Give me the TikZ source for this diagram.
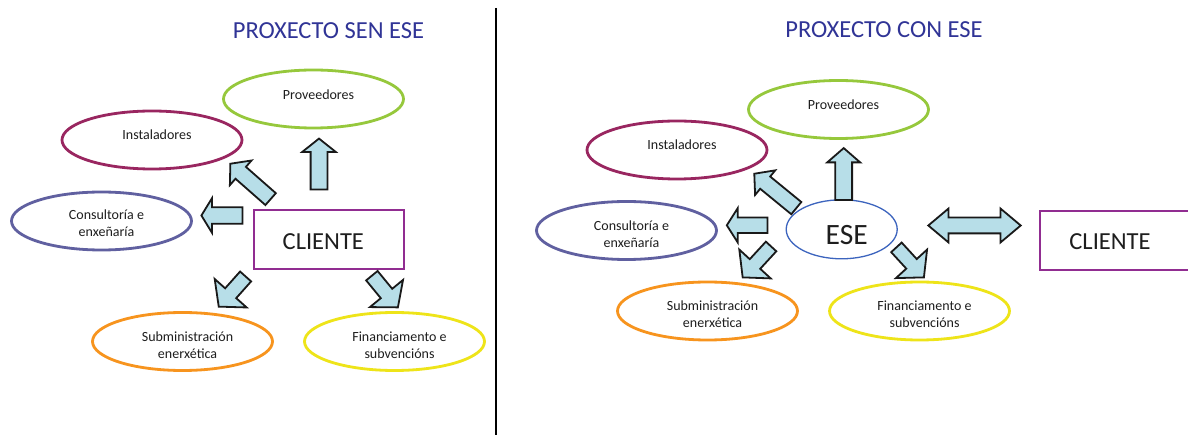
\documentclass[tikz,border=0pt]{standalone}
\usepackage{fontspec}
\setmainfont{Carlito}
\usetikzlibrary{shapes.geometric,shapes.arrows,calc}
\definecolor{titleblue}{RGB}{48,52,150}
\definecolor{cgreen}{RGB}{150,200,60}
\definecolor{cmaroon}{RGB}{153,38,96}
\definecolor{cslate}{RGB}{96,96,160}
\definecolor{corange}{RGB}{247,148,30}
\definecolor{cyellow}{RGB}{238,228,25}
\definecolor{cpurple}{RGB}{145,45,145}
\definecolor{eseblue}{RGB}{60,100,190}
\definecolor{arrowfill}{RGB}{183,222,232}
\definecolor{txt}{RGB}{30,30,30}
\tikzset{
  oval/.style={ellipse, draw=#1, line width=2.8pt, minimum width=180pt, minimum height=58pt, inner sep=0pt},
  clibox/.style={rectangle, draw=cpurple, line width=2pt, minimum width=150pt, minimum height=59pt, inner sep=0pt},
  small/.style={anchor=base, inner sep=0pt, text=txt, font=\fontsize{14}{16.7}\selectfont},
  big/.style={anchor=base, inner sep=0pt, text=txt, font=\fontsize{24.5}{29}\selectfont},
  huge/.style={anchor=base, inner sep=0pt, text=txt, font=\fontsize{29.5}{34}\selectfont},
  ttl/.style={anchor=base, inner sep=0pt, text=titleblue, font=\fontsize{24.5}{29}\selectfont},
  % args: total length, half shaft width, head extend, tip angle
  barrow/.style n args={4}{single arrow, draw=black!90, fill=arrowfill, line width=1.8pt,
    inner xsep=0pt, inner ysep=#2, anchor=tail, minimum height=#1,
    single arrow head extend=#3, single arrow tip angle=#4},
  dbarrow/.style n args={4}{double arrow, draw=black!90, fill=arrowfill, line width=1.8pt,
    inner xsep=0pt, inner ysep=#2, minimum height=#1,
    double arrow head extend=#3, double arrow tip angle=#4},
}
\begin{document}
\begin{tikzpicture}[x=1pt,y=-1pt]
\useasboundingbox (0,0) rectangle (1188,435);
\clip (0,0) rectangle (1188,435);
\fill[white] (0,0) rectangle (1188,435);

% divider
\draw[line width=2pt, black] (496,8) -- (496,435);

% ---------- left panel ----------
\node[ttl] (ltitle) at (328.5,38.3) {PROXECTO SEN ESE};

\node[oval=cgreen]  (lprov) at (313.5,99) {};
\node[oval=cmaroon] (linst) at (152,140) {};
\node[oval=cslate]  (lcons) at (101.5,221) {};
\node[oval=corange] (lsub)  at (182.5,341.5) {};
\node[oval=cyellow] (lfin)  at (394.5,341.5) {};
\node[clibox] (lcli) at (329.2,240) {};

\node[small] (lprovT) at ($(lprov)+(5,1)$) {Proveedores};
\node[small] (linstT) at ($(linst)+(5,-0.5)$) {Instaladores};
\node[small] (lconsT) at ($(lcons)+(5,-1)$) {\begin{tabular}[t]{@{}c@{}}Consultoría e\\enxeñaría\end{tabular}};
\node[small] (lsubT) at ($(lsub)+(5,0)$) {\begin{tabular}[t]{@{}c@{}}Subministración\\enerxética\end{tabular}};
\node[small] (lfinT) at ($(lfin)+(5,0)$) {\begin{tabular}[t]{@{}c@{}}Financiamento e\\subvencións\end{tabular}};
\node[big] (lcliT) at ($(lcli)+(-5.9,10)$) {CLIENTE};

\node[barrow={51pt}{7.5pt}{8.5pt}{103}, rotate=90] (la1) at (319,190.5) {};
\node[barrow={53.6pt}{7pt}{8.5pt}{100}, rotate=138.7] (la2) at (271.3,199.7) {};
\node[barrow={41pt}{7.3pt}{9.2pt}{117}, rotate=180] (la3) at (243.3,215.5) {};
\node[barrow={40.4pt}{6.5pt}{14pt}{100}, rotate=228.3] (la4) at (246.2,275.8) {};
\node[barrow={41pt}{6.5pt}{14pt}{100}, rotate=309.4] (la5) at (371.3,275) {};

% ---------- right panel ----------
\node[ttl] (rtitle) at (884,38) {PROXECTO CON ESE};

\node[oval=cgreen]  (rprov) at (838.5,109.5) {};
\node[oval=cmaroon] (rinst) at (677,150) {};
\node[oval=cslate]  (rcons) at (626.5,230.5) {};
\node[oval=corange] (rsub)  at (707.5,311) {};
\node[oval=cyellow] (rfin)  at (919.5,311) {};
\node[ellipse, draw=eseblue, line width=1.3pt, minimum width=111pt, minimum height=59pt, inner sep=0pt] (rese) at (841.7,229.3) {};
\node[clibox] (rcli) at (1115,240.5) {};

\node[small] (rprovT) at ($(rprov)+(5,0.5)$) {Proveedores};
\node[small] (rinstT) at ($(rinst)+(5,-0.5)$) {Instaladores};
\node[small] (rconsT) at ($(rcons)+(5,0.2)$) {\begin{tabular}[t]{@{}c@{}}Consultoría e\\enxeñaría\end{tabular}};
\node[small] (rsubT) at ($(rsub)+(5,0)$) {\begin{tabular}[t]{@{}c@{}}Subministración\\enerxética\end{tabular}};
\node[small] (rfinT) at ($(rfin)+(5,0)$) {\begin{tabular}[t]{@{}c@{}}Financiamento e\\subvencións\end{tabular}};
\node[huge] (reseT) at (846.7,245) {ESE};
\node[big] (rcliT) at ($(rcli)+(-5,9.5)$) {CLIENTE};

\node[barrow={52pt}{7.5pt}{8pt}{98}, rotate=90] (ra1) at (843.7,201) {};
\node[barrow={54.3pt}{7pt}{8pt}{97}, rotate=140.7] (ra2) at (797,208.7) {};
\node[barrow={40.6pt}{6.8pt}{9.5pt}{115}, rotate=180] (ra3) at (768.3,225.3) {};
\node[barrow={42pt}{6.2pt}{14.2pt}{99}, rotate=227.4] (ra4) at (771.7,245.8) {};
\node[barrow={40.7pt}{6.2pt}{14pt}{98}, rotate=312.5] (ra5) at (895.8,246.7) {};
\node[dbarrow={92.4pt}{7pt}{9pt}{80}] (ra6) at (974.5,225.5) {};
\end{tikzpicture}
\end{document}
